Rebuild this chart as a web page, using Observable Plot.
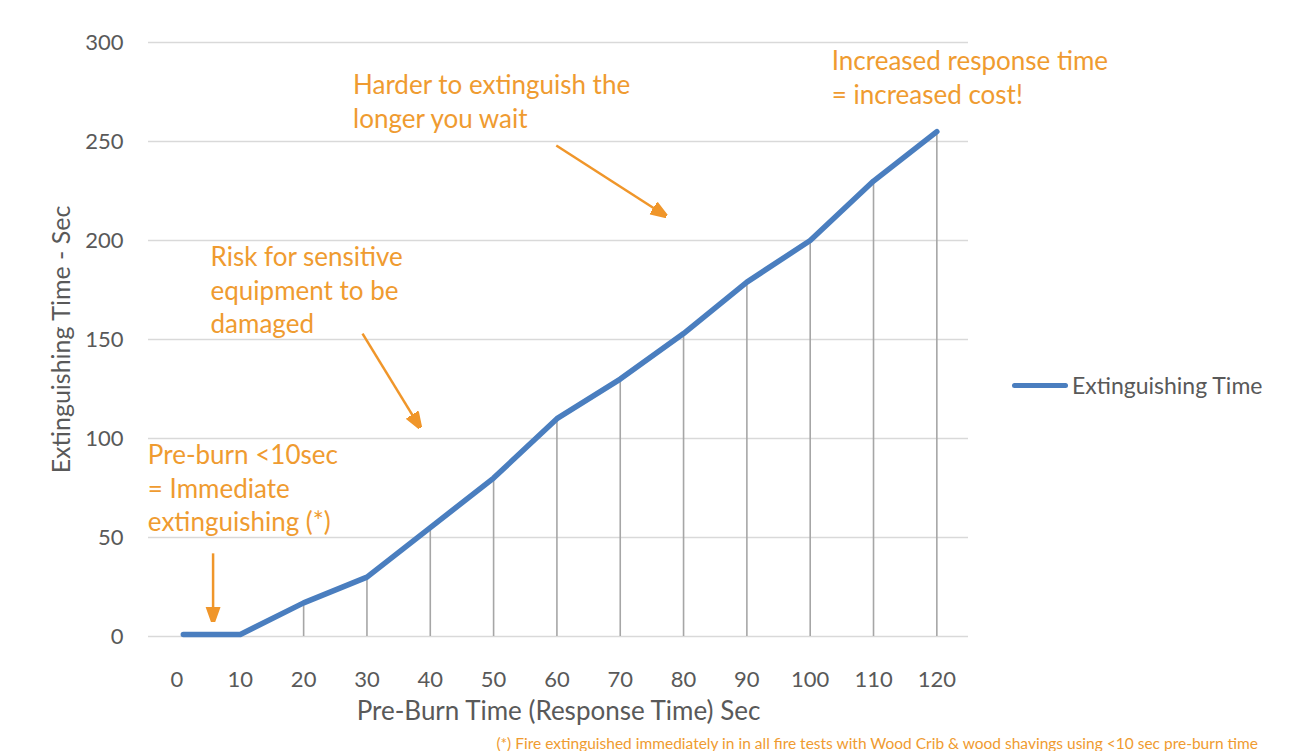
<!DOCTYPE html>
<html><head><meta charset="utf-8">
<script src="https://cdn.jsdelivr.net/npm/d3@7"></script>
<script src="https://cdn.jsdelivr.net/npm/@observablehq/plot@0.6"></script>
<style>
body{margin:0;background:#fff;font-family:Lato,sans-serif;}
#wrap{position:relative;width:1291px;height:751px;overflow:hidden;background:#fff;}
#legend{position:absolute;left:1012px;top:372px;height:26px;display:flex;align-items:center;font-size:23px;color:#595959;}
#legend .sw{width:56px;height:5px;border-radius:3px;background:#4a7ebf;margin-right:4px;}
#note{position:absolute;right:33px;top:736px;font-size:15.5px;line-height:1;color:#EF9B30;white-space:nowrap;}
</style></head><body><div id="wrap"></div>
<script>
// Data
const preBurn = [1, 10, 20, 30, 40, 50, 60, 70, 80, 90, 100, 110, 120];
const extTime = [1, 1, 17, 30, 55, 80, 110, 130, 153, 179, 200, 230, 255];
const xTicks = [0, 10, 20, 30, 40, 50, 60, 70, 80, 90, 100, 110, 120];
const yTicks = [0, 50, 100, 150, 200, 250, 300];
const seriesName = "Extinguishing Time";
const xTitle = "Pre-Burn Time (Response Time) Sec";
const yTitle = "Extinguishing Time - Sec";
const footnote = "(*) Fire extinguished immediately in in all fire tests with Wood Crib & wood shavings using <10 sec pre-burn time";

// Annotations (data coordinates)
const annoText = [
  "Harder to extinguish the\nlonger you wait",
  "Risk for sensitive\nequipment to be\ndamaged",
  "Pre-burn <10sec\n= Immediate\nextinguishing (*)",
  "Increased response time\n= increased cost!"
];
const annoX = [27.8, 5.3, -4.6, 103.4];
const annoY = [286, 199, 99, 298];
const arrX1 = [59.9, 29.3, 5.7];
const arrY1 = [248, 153, 42];
const arrX2 = [77.1, 38.3, 5.7];
const arrY2 = [212.6, 106, 8];

const orange = "#EF9B30";
const arrowColor = "#F0962A";

function triMarker(color) {
  const ns = "http://www.w3.org/2000/svg";
  const m = document.createElementNS(ns, "marker");
  m.setAttribute("viewBox", "-5 -5 10 10");
  m.setAttribute("markerWidth", 6.2);
  m.setAttribute("markerHeight", 6.2);
  m.setAttribute("refX", 4);
  m.setAttribute("orient", "auto");
  const p = document.createElementNS(ns, "path");
  p.setAttribute("d", "M-5,-3.6L5,0L-5,3.6Z");
  p.setAttribute("fill", color);
  m.appendChild(p);
  return m;
}

function build(useMarker) {
  const arrows = useMarker
    ? Plot.link(arrX1, {x1: arrX1, y1: arrY1, x2: arrX2, y2: arrY2, stroke: arrowColor, strokeWidth: 2.5, markerEnd: triMarker})
    : Plot.arrow(arrX1, {x1: arrX1, y1: arrY1, x2: arrX2, y2: arrY2, stroke: arrowColor, strokeWidth: 2.5, headLength: 14});
  return Plot.plot({
    width: 1291,
    height: 728,
    marginLeft: 148,
    marginRight: 323,
    marginTop: 42,
    marginBottom: 92,
    style: {fontFamily: "Lato, sans-serif", fontSize: "22px", color: "#595959", background: "white", overflow: "visible"},
    x: {domain: [-4.5, 125], label: null},
    y: {domain: [0, 300], label: null},
    marks: [
      Plot.gridY(yTicks, {stroke: "#d9d9d9", strokeOpacity: 1, strokeWidth: 1.5}),
      Plot.axisY(yTicks, {tickSize: 0, tickPadding: 25, fontSize: 22, label: null}),
      Plot.axisX(xTicks, {tickSize: 0, tickPadding: 35, fontSize: 22, label: null}),
      Plot.ruleX(preBurn, {x: preBurn, y1: 0, y2: extTime, stroke: "#a6a6a6", strokeWidth: 1.6}),
      Plot.line(preBurn, {x: preBurn, y: extTime, stroke: "#4a7ebf", strokeWidth: 5.5, strokeLinecap: "round", strokeLinejoin: "round"}),
      Plot.text([xTitle], {frameAnchor: "bottom", text: d => d, dy: 75, textAnchor: "middle", lineAnchor: "middle", fontSize: 26, fill: "#595959"}),
      Plot.text([yTitle], {frameAnchor: "left", text: d => d, rotate: -90, dx: -87, textAnchor: "middle", lineAnchor: "middle", fontSize: 25, fill: "#595959"}),
      Plot.text(annoText, {x: annoX, y: annoY, text: annoText, textAnchor: "start", lineAnchor: "top", lineHeight: 1.29, fontSize: 26, fill: orange}),
      arrows
    ]
  });
}

let chart;
try { chart = build(true); } catch (e) { chart = build(false); }
const wrap = document.getElementById("wrap");
wrap.appendChild(chart);
const legend = document.createElement("div");
legend.id = "legend";
legend.innerHTML = `<div class="sw"></div><span>${seriesName}</span>`;
wrap.appendChild(legend);
const note = document.createElement("div");
note.id = "note";
note.textContent = footnote;
wrap.appendChild(note);
</script></body></html>
